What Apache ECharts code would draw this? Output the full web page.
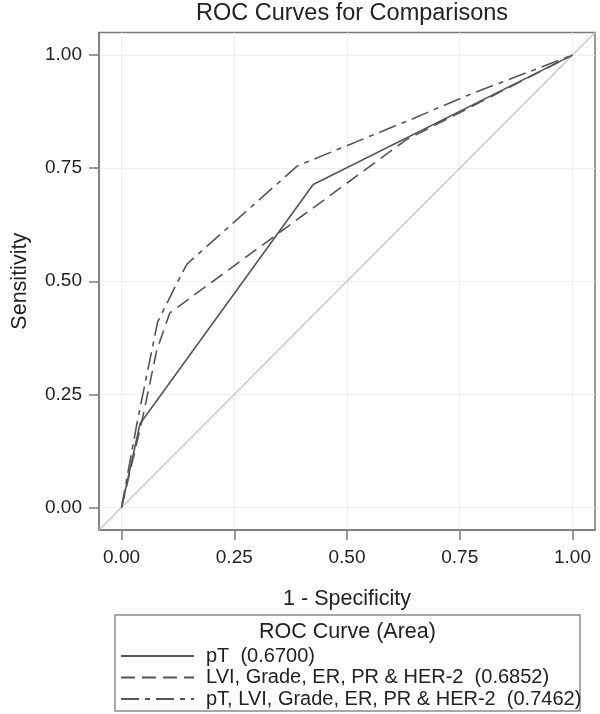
<!DOCTYPE html>
<html>
<head>
<meta charset="utf-8">
<script src="https://cdn.jsdelivr.net/npm/echarts@6/dist/echarts.min.js"></script>
<style>
html,body{margin:0;padding:0;background:#fff;}
#chart{width:600px;height:714px;}
</style>
</head>
<body>
<div id="chart"></div>
<script>
// ---- data ----
const chartTitle = 'ROC Curves for Comparisons';
const xAxisName = '1 - Specificity';
const yAxisName = 'Sensitivity';
const legendTitle = 'ROC Curve (Area)';
const tickValues = [0, 0.25, 0.5, 0.75, 1];
const axisRange = [-0.05, 1.05];

const seriesNames = [
  'pT  (0.6700)',
  'LVI, Grade, ER, PR & HER-2  (0.6852)',
  'pT, LVI, Grade, ER, PR & HER-2  (0.7462)'
];
const pT_x = [0, 0.041, 0.425, 1];
const pT_y = [0, 0.185, 0.714, 1];
const lvi_x = [0, 0.045, 0.078, 0.107, 0.63, 1];
const lvi_y = [0, 0.19, 0.347, 0.43, 0.812, 1];
const comb_x = [0, 0.035, 0.08, 0.126, 0.145, 0.39, 0.64, 0.77, 1];
const comb_y = [0, 0.19, 0.41, 0.502, 0.538, 0.755, 0.857, 0.912, 1];
const diag = [-0.05, 1.05];

const zip = (xs, ys) => xs.map((x, i) => [x, ys[i]]);
const FONT = 'Liberation Sans, Arial, sans-serif';
const TXT = '#222';
const LINE = '#555';

const chart = echarts.init(document.getElementById('chart'), null, {renderer: 'canvas'});
chart.setOption({
  animation: false,
  backgroundColor: '#fff',
  title: {
    text: chartTitle,
    left: 347, textAlign: 'center',
    top: -3,
    textStyle: {fontFamily: FONT, fontSize: 23.5, fontWeight: 'normal', color: TXT}
  },
  grid: {
    left: 99, right: 5, top: 32.5, bottom: 184,
    show: true, borderColor: '#7a7a7a', borderWidth: 1.5, backgroundColor: '#fff'
  },
  xAxis: {
    type: 'value', min: axisRange[0], max: axisRange[1],
    name: xAxisName, nameLocation: 'middle', nameGap: 58,
    nameTextStyle: {fontFamily: FONT, fontSize: 21.5, color: TXT},
    axisLine: {show: true, onZero: false, lineStyle: {color: '#7a7a7a', width: 1.5}},
    axisTick: {show: true, length: 10, customValues: tickValues, lineStyle: {color: '#7a7a7a', width: 1.5}},
    axisLabel: {customValues: tickValues, margin: 18, fontFamily: FONT, fontSize: 19, color: TXT,
      formatter: v => v.toFixed(2)},
    splitLine: {show: true, lineStyle: {color: '#efefef', width: 1}}
  },
  yAxis: {
    type: 'value', min: axisRange[0], max: axisRange[1],
    name: yAxisName, nameLocation: 'middle', nameGap: 68,
    nameTextStyle: {fontFamily: FONT, fontSize: 21.5, color: TXT},
    axisLine: {show: true, onZero: false, lineStyle: {color: '#7a7a7a', width: 1.5}},
    axisTick: {show: true, length: 10, customValues: tickValues, lineStyle: {color: '#7a7a7a', width: 1.5}},
    axisLabel: {customValues: tickValues, margin: 17, fontFamily: FONT, fontSize: 19, color: TXT,
      formatter: v => v.toFixed(2)},
    splitLine: {show: true, lineStyle: {color: '#efefef', width: 1}}
  },
  legend: {
    orient: 'vertical',
    left: 120, top: 646,
    itemWidth: 73, itemHeight: 12, itemGap: 1.5,
    padding: 0,
    data: seriesNames,
    itemStyle: {opacity: 0},
    textStyle: {fontFamily: FONT, fontSize: 20, color: TXT, lineHeight: 20, padding: [0, 0, 0, 7]}
  },
  graphic: [
    {type: 'rect', shape: {x: 115, y: 615, width: 465, height: 96},
     style: {fill: 'none', stroke: '#8a8a8a', lineWidth: 1.5}, z: 1},
    {type: 'text', x: 347.5, y: 632,
     style: {text: legendTitle, font: '21.5px ' + FONT, fill: TXT, textAlign: 'center', textVerticalAlign: 'middle'}}
  ],
  series: [
    {
      type: 'line', name: 'diag', data: zip(diag, diag), symbol: 'none', silent: true,
      lineStyle: {color: '#c4c4c4', width: 1.2}, itemStyle: {color: '#c4c4c4'}, z: 1
    },
    {
      type: 'line', name: seriesNames[0], data: zip(pT_x, pT_y), symbol: 'none',
      lineStyle: {color: LINE, width: 1.6, type: 'solid'}, itemStyle: {color: LINE}
    },
    {
      type: 'line', name: seriesNames[1], data: zip(lvi_x, lvi_y), symbol: 'none',
      lineStyle: {color: LINE, width: 1.6, type: [14, 7]}, itemStyle: {color: LINE}
    },
    {
      type: 'line', name: seriesNames[2], data: zip(comb_x, comb_y), symbol: 'none',
      lineStyle: {color: LINE, width: 1.6, type: [18, 6, 5, 6]}, itemStyle: {color: LINE}
    }
  ]
});
</script>
</body>
</html>
